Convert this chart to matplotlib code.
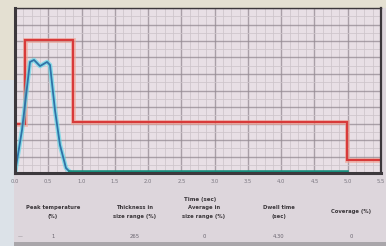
import matplotlib
matplotlib.use("Agg")
import matplotlib.pyplot as plt
from matplotlib.patches import Rectangle
import numpy as np

# ---- data ----
red_t = [0.0, 0.15, 0.15, 0.87, 0.87, 4.99, 4.99, 5.5]
red_v = [30, 30, 80.5, 80.5, 31, 31, 8, 8]

blue_t = [0.0, 0.105, 0.225, 0.286, 0.376, 0.481, 0.526, 0.601, 0.676, 0.766, 0.826, 4.99]
blue_v = [0, 26, 67.3, 68.5, 64.8, 67.3, 65.5, 38, 17, 3, 0.6, 0.6]

xticks = [0.0, 0.5, 1.0, 1.5, 2.0, 2.5, 3.0, 3.5, 4.0, 4.5, 5.0, 5.5]
xtick_labels = ["0.0", "0.5", "1.0", "1.5", "2.0", "2.5", "3.0", "3.5", "4.0", "4.5", "5.0", "5.5"]
xlabel = "Time (sec)"

table_headers = ["Peak temperature\n(%)", "Thickness in\nsize range (%)", "Average in\nsize range (%)",
                 "Dwell time\n(sec)", "Coverage (%)"]
table_values = ["1", "265", "0", "4.30", "0"]

W, H = 386, 246
fig = plt.figure(figsize=(W / 100, H / 100), dpi=100)
fig.patch.set_facecolor("#ddd6dc")

def rect(x, y, w, h, color, z=0):
    fig.add_artist(Rectangle((x / W, 1 - (y + h) / H), w / W, h / H,
                             transform=fig.transFigure, facecolor=color,
                             edgecolor="none", zorder=z))

rect(0, 0, W, 8, "#e4e0d2")
rect(0, 0, 14, 80, "#e4e0d2")
rect(0, 80, 14, 166, "#dce2e8")
rect(14, 242, W - 14, 4, "#a9a6aa")

ax = fig.add_axes([15 / W, 1 - 173 / H, 366 / W, 165 / H])
ax.set_facecolor("#e8dfe5")
ax.set_xlim(0, 5.5)
ax.set_ylim(0, 100)

ax.set_xticks(xticks)
ax.set_xticklabels(xtick_labels, fontsize=3.8, color="#7a7680")
ax.set_xticks(np.arange(0, 5.51, 0.125), minor=True)
ax.set_yticks(np.arange(0, 101, 10))
ax.set_yticks(np.arange(0, 101, 5), minor=True)
ax.set_yticklabels([])
ax.tick_params(axis="both", which="both", length=0, pad=4)
ax.grid(which="major", color="#948a92", linewidth=1.0, alpha=0.75)
ax.grid(which="minor", color="#cdc4ca", linewidth=0.6, alpha=0.9)
ax.set_axisbelow(True)

for s, sp in ax.spines.items():
    sp.set_color("#3c383c")
ax.spines["left"].set_linewidth(2.2)
ax.spines["bottom"].set_linewidth(2.2)
ax.spines["right"].set_linewidth(1.6)
ax.spines["top"].set_linewidth(1.0)

# red line with glow
ax.plot(red_t, red_v, color="#f4a090", linewidth=3.5, alpha=0.6, solid_joinstyle="miter")
ax.plot(red_t, red_v, color="#d83a3a", linewidth=1.6, solid_joinstyle="miter")

# blue / teal line with glow
ax.plot(blue_t[:11], blue_v[:11], color="#60d8e8", linewidth=3.2, alpha=0.7)
ax.plot(blue_t[:11], blue_v[:11], color="#2f72a8", linewidth=1.3)
ax.plot(blue_t[10:], blue_v[10:], color="#18907e", linewidth=2.6)

ax.set_xlabel(xlabel, fontsize=4, color="#3a363a", fontweight="bold", labelpad=2)
ax.xaxis.set_label_coords((200 - 15) / 366, -(197 - 173) / 165)

col_x = [53, 135, 204, 279, 351]
for x, h, v in zip(col_x, table_headers, table_values):
    fig.text(x / W, 1 - 212 / H, h, fontsize=3.8, color="#3a363a", fontweight="bold",
             ha="center", va="center", linespacing=2.2)
    fig.text(x / W, 1 - 236 / H, v, fontsize=3.8, color="#6a6670",
             ha="center", va="center")
fig.text(20 / W, 1 - 237 / H, "—", fontsize=3.5, color="#8a868a", ha="center", va="center")

fig.savefig("out.png", dpi=100, facecolor=fig.get_facecolor())
